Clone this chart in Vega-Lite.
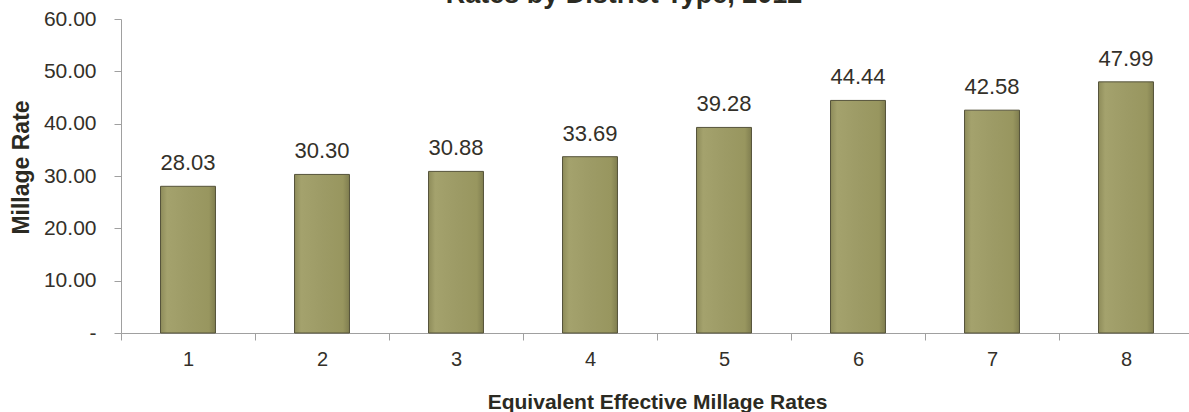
{
  "$schema": "https://vega.github.io/schema/vega-lite/v6.json",
  "width": 1072,
  "height": 314,
  "autosize": {"type": "none"},
  "padding": {"left": 121, "top": 19, "right": 0, "bottom": 79},
  "background": "white",
  "title": {
    "text": "Rates by District Type, 2012",
    "fontSize": 27,
    "fontWeight": "bold",
    "font": "Liberation Sans",
    "color": "#2b2a22",
    "baseline": "alphabetic",
    "frame": "group",
    "offset": 0,
    "dx": -33,
    "dy": 22
  },
  "data": {
    "values": [
      {"type": "1", "rate": 28.03},
      {"type": "2", "rate": 30.30},
      {"type": "3", "rate": 30.88},
      {"type": "4", "rate": 33.69},
      {"type": "5", "rate": 39.28},
      {"type": "6", "rate": 44.44},
      {"type": "7", "rate": 42.58},
      {"type": "8", "rate": 47.99}
    ]
  },
  "config": {
    "view": {"stroke": null},
    "font": "Liberation Sans",
    "axis": {
      "domainColor": "#a0a0a0",
      "tickColor": "#a0a0a0",
      "labelColor": "#333029",
      "titleColor": "#2b2a22",
      "labelFont": "Liberation Sans",
      "titleFont": "Liberation Sans",
      "grid": false
    }
  },
  "encoding": {
    "x": {
      "field": "type",
      "type": "ordinal",
      "sort": null,
      "scale": {"paddingInner": 0, "paddingOuter": 0},
      "axis": {
        "title": "Equivalent Effective Millage Rates",
        "titleFontSize": 21,
        "titleFontWeight": "bold",
        "titleBaseline": "alphabetic",
        "titleY": 75,
        "labelAngle": 0,
        "labelFontSize": 20,
        "labelPadding": 9,
        "tickSize": 7,
        "tickBand": "extent"
      }
    }
  },
  "layer": [
    {
      "mark": {
        "type": "bar",
        "width": {"band": 0.41},
        "stroke": "#55533a",
        "strokeWidth": 1,
        "color": {
          "gradient": "linear",
          "x1": 0, "y1": 0, "x2": 1, "y2": 0,
          "stops": [
            {"offset": 0, "color": "#8e8c5a"},
            {"offset": 0.12, "color": "#a4a26d"},
            {"offset": 0.5, "color": "#9d9b66"},
            {"offset": 0.88, "color": "#98965f"},
            {"offset": 1, "color": "#807e50"}
          ]
        }
      },
      "encoding": {
        "y": {
          "field": "rate",
          "type": "quantitative",
          "scale": {"domain": [0, 60], "nice": false},
          "axis": {
            "title": "Millage Rate",
            "titleFontSize": 23,
            "titleFontWeight": "bold",
            "titleBaseline": "alphabetic",
            "titleX": -93,
            "titleY": 148,
            "values": [0, 10, 20, 30, 40, 50, 60],
            "labelExpr": "datum.value === 0 ? '-\u00a0\u00a0\u00a0' : format(datum.value, '.2f')",
            "labelFontSize": 21,
            "labelPadding": 18,
            "tickSize": 7
          }
        }
      }
    },
    {
      "mark": {
        "type": "text",
        "baseline": "alphabetic",
        "dy": -16,
        "fontSize": 22,
        "color": "#333029"
      },
      "encoding": {
        "y": {"field": "rate", "type": "quantitative"},
        "text": {"field": "rate", "type": "quantitative", "format": ".2f"}
      }
    }
  ]
}
